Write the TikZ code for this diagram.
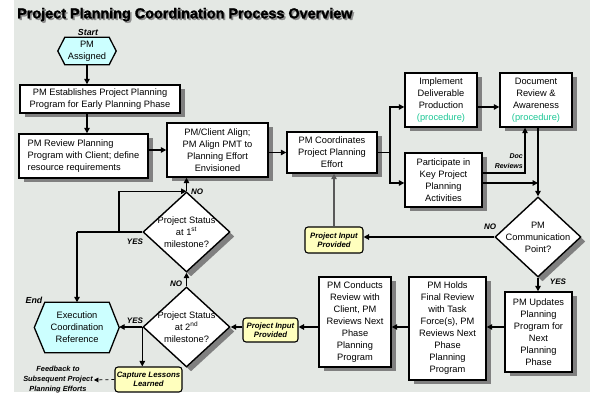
\documentclass[tikz,border=0pt]{standalone}
\usepackage{fontspec}
\setmainfont{Liberation Sans}
\newfontfamily\ttlfont[BoldFeatures={FakeBold=1.6}]{Liberation Sans}
\usetikzlibrary{arrows.meta,shapes.geometric,shadows,calc}
\pgfdeclarelayer{background}
\pgfsetlayers{background,main}
\definecolor{bg}{RGB}{228,232,228}
\definecolor{hexfill}{RGB}{204,255,255}
\definecolor{yel}{RGB}{255,255,190}
\definecolor{proc}{RGB}{30,200,150}
\newcommand{\bxfont}{\fontsize{9.3}{12}\selectfont}
\newcommand{\ttltext}{Project Planning Coordination Process Overview}
\begin{document}
\begin{tikzpicture}[x=1pt,y=-1pt,
  shad/.style={drop shadow={shadow xshift=4.5pt,shadow yshift=-4.5pt,fill=black!50,opacity=1}},
  box/.style={draw=black, line width=1.4pt, fill=white, align=center, font=\bxfont, inner sep=0pt, shad},
  dia/.style={diamond, draw=black, line width=1.4pt, fill=white, inner sep=0pt, shad},
  diatext/.style={align=center, font=\bxfont, inner sep=0pt},
  hexlbl/.style={align=center, font=\bxfont, inner sep=0pt},
  hexline/.style={draw=black, line width=1.3pt, fill=hexfill},
  pip/.style={draw=black, line width=1.1pt, fill=yel, rounded corners=3pt, align=center, inner sep=0pt, font=\fontsize{7.8}{9.5}\selectfont\bfseries\itshape},
  tag/.style={font=\fontsize{8}{9.5}\selectfont\bfseries\itshape, inner sep=0pt},
  tagsmall/.style={font=\fontsize{7}{10}\selectfont\bfseries\itshape, inner sep=0pt},
  fb/.style={font=\fontsize{7.4}{10}\selectfont\bfseries\itshape, inner sep=1pt, align=center},
  ttl/.style={anchor=base west, inner sep=0pt, font=\ttlfont\fontsize{14.4}{16}\selectfont\bfseries},
  conn/.style={line width=1.3pt, draw=black},
  arr/.style={conn, -{Triangle[length=5.5pt,width=5.5pt]}},
]
\useasboundingbox (0,0) rectangle (590,398);

% title (with its drop shadow)
\node[ttl] (title) at (17,18.3) {\rlap{\hspace{1.6pt}\raisebox{-1.6pt}{\color{black!45}\ttltext}}\ttltext};

% nodes
\node[hexlbl, minimum width=44pt, minimum height=27pt] (start) at (87,51) {PM\\Assigned};
\node[tag, font=\fontsize{8.8}{10}\selectfont\bfseries\itshape] (startlbl) at (88,32) {Start};
\node[box, minimum width=160pt, minimum height=28pt] (est) at (100,99) {PM Establishes Project Planning\\Program for Early Planning Phase};
\node[box, minimum width=129pt, minimum height=44pt, align=left] (review) at (83.5,156) {PM Review Planning\\Program with Client; define\\resource requirements};
\node[box, minimum width=101pt, minimum height=54pt] (align) at (217.5,150) {PM/Client Align;\\PM Align PMT to\\Planning Effort\\Envisioned};
\node[box, minimum width=90pt, minimum height=41pt] (coord) at (332,152.5) {PM Coordinates\\Project Planning\\Effort};
\node[box, minimum width=72pt, minimum height=54pt] (impl) at (441,100) {Implement\\Deliverable\\Production\\\textcolor{proc}{(procedure)}};
\node[box, minimum width=72pt, minimum height=54pt] (doc) at (536,100) {Document\\Review \&\\Awareness\\\textcolor{proc}{(procedure)}};
\node[box, minimum width=77pt, minimum height=54pt] (part) at (443.5,180) {Participate in\\Key Project\\Planning\\Activities};
\node[dia, minimum width=86pt, minimum height=80pt, label={[diatext]center:{PM\\Communication\\Point?}}] (comm) at (538,237) {};
\node[pip, minimum width=58pt, minimum height=26pt] (pip1) at (334,240) {Project Input\\Provided};
\node[box, minimum width=67pt, minimum height=80pt] (upd) at (538.5,332) {PM Updates\\Planning\\Program for\\Next\\Planning\\Phase};
\node[box, minimum width=77pt, minimum height=103pt] (holds) at (447.5,328.5) {PM Holds\\Final Review\\with Task\\Force(s), PM\\Reviews Next\\Phase\\Planning\\Program};
\node[box, minimum width=72pt, minimum height=90pt] (cond) at (355,322) {PM Conducts\\Review with\\Client, PM\\Reviews Next\\Phase\\Planning\\Program};
\node[pip, minimum width=55pt, minimum height=24pt] (pip2) at (270.5,330) {Project Input\\Provided};
\node[dia, minimum width=87pt, minimum height=80pt, label={[diatext]center:{Project Status\\at 2\textsuperscript{nd}\\milestone?}}] (d2) at (186.5,327) {};
\node[dia, minimum width=87pt, minimum height=80pt, label={[diatext]center:{Project Status\\at 1\textsuperscript{st}\\milestone?}}] (d1) at (186.5,232) {};
\node[hexlbl, minimum width=64pt, minimum height=50pt] (exec) at (77,327.5) {Execution\\Coordination\\Reference};
\node[tag, font=\fontsize{8.8}{10}\selectfont\bfseries\itshape] (endlbl) at (34,300.5) {End};
\node[pip, minimum width=67pt, minimum height=25pt] (lessons) at (148.5,379.5) {Capture Lessons\\Learned};
\node[fb] (feedback) at (58,380) {Feedback to\\Subsequent Project\\Planning Efforts};

% background + hexagons
\begin{pgfonlayer}{background}
\fill[bg] (14,0) rectangle (590,392);
\draw[hexline] ($(start.west)+(-7,0)$) -- (start.north west) -- (start.north east) -- ($(start.east)+(7,0)$) -- (start.south east) -- (start.south west) -- cycle;
\draw[hexline] ($(exec.west)+(-10.5,0)$) -- (exec.north west) -- (exec.north east) -- ($(exec.east)+(10,0)$) -- (exec.south east) -- (exec.south west) -- cycle;
\end{pgfonlayer}

% connectors
\draw[arr] (start.south) -- (start.south |- est.north);
\draw[arr] (start.south |- est.south) -- (start.south |- review.north);
\draw[arr] (review.east |- align.west) -- (align.west);
\draw[arr] (align.east |- coord.west) -- (coord.west);
\coordinate (br) at (390,152.5);
\draw[conn] (coord.east) -- (br);
\draw[arr] (br) |- ($(impl.west)+(0,7)$);
\draw[arr] (br) |- ($(part.west)+(0,3)$);
\draw[arr] ($(impl.east)+(0,7)$) -- ($(doc.west)+(0,7)$);
\draw[arr] ($(part.east)+(0,-7)$) -| ($(doc.south)+(-11,0)$);
\coordinate (jc) at (538,183);
\draw[arr] ($(part.east)+(0,3)$) -- (jc);
\draw[arr] (doc.south -| comm.north) -- (comm.north);
\draw[arr] (comm.west) -- (comm.west -| pip1.east);
\draw[arr, draw=black!65] (pip1.north) -- (pip1.north |- coord.south);
\draw[arr] (comm.south) -- (comm.south |- upd.north);
\draw[arr] (upd.west |- d2.east) -- (holds.east |- d2.east);
\draw[arr] (holds.west |- d2.east) -- (cond.east |- d2.east);
\draw[arr] (cond.west |- d2.east) -- (pip2.east |- d2.east);
\draw[arr] (pip2.west |- d2.east) -- (d2.east);
\coordinate (exectip) at ($(exec.east)+(10,0)$);
\draw[arr] (d2.west) -- (exectip |- d2.west);
\draw[arr] (d2.north) -- (d1.south);
\draw[arr] (d1.north) -- (d1.north |- align.south);
\coordinate (jl) at (exec.north |- d1.west);
\coordinate (jm) at (119,232);
\draw[conn] (d1.west) -- (jl);
\draw[arr] (jl) -- (exec.north);
\draw[arr] (jm) |- (d1.north);
\draw[arr] (d2.west) -- (d2.west |- lessons.north);
\draw[line width=0.8pt, dashed, -{Triangle[length=4.5pt,width=4.5pt]}] (lessons.west) -- (feedback.east);

% labels
\node[tag] (nocomm) at (490,227) {NO};
\node[tag] (yescomm) at (558,282) {YES};
\node[tag] (nod1) at (197,192) {NO};
\node[tag] (nod2) at (176,284) {NO};
\node[tag] (yesd1) at (135,242) {YES};
\node[tag] (yesd2) at (135,321) {YES};
\node[tagsmall, align=right, anchor=east] (docrev) at (523,161) {Doc\\Reviews};
\end{tikzpicture}
\end{document}
